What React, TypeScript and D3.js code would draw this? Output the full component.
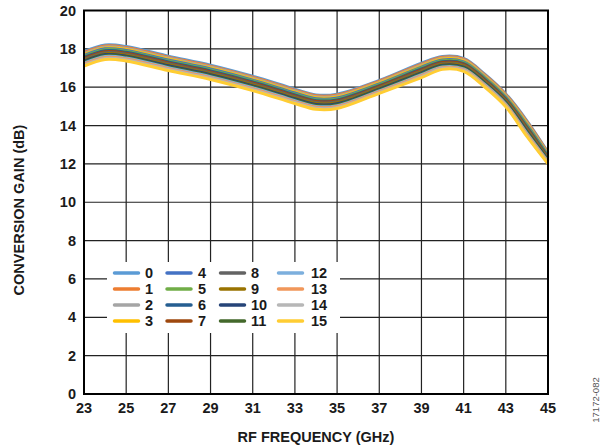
import React from "react";
import * as d3 from "d3";

const freqs = [23, 24, 25, 27, 29, 31, 33, 34, 35, 37, 39, 40, 41, 42, 43, 44, 45];

const s0 = [17.85, 18.2, 18.12, 17.62, 17.15, 16.57, 15.9, 15.6, 15.64, 16.35, 17.25, 17.6, 17.5, 16.68, 15.65, 14.25, 12.6];
const s1 = [17.8, 18.15, 18.07, 17.57, 17.1, 16.52, 15.85, 15.55, 15.59, 16.31, 17.2, 17.56, 17.46, 16.64, 15.61, 14.2, 12.56];
const s2 = [17.75, 18.1, 18.02, 17.52, 17.05, 16.47, 15.8, 15.5, 15.54, 16.26, 17.15, 17.51, 17.41, 16.59, 15.56, 14.14, 12.52];
const s3 = [17.7, 18.05, 17.97, 17.47, 17.0, 16.42, 15.75, 15.45, 15.49, 16.22, 17.1, 17.47, 17.37, 16.55, 15.52, 14.09, 12.48];
const s4 = [17.65, 18.0, 17.92, 17.42, 16.95, 16.37, 15.7, 15.4, 15.44, 16.17, 17.05, 17.42, 17.32, 16.5, 15.47, 14.03, 12.44];
const s5 = [17.6, 17.95, 17.87, 17.37, 16.9, 16.32, 15.65, 15.35, 15.39, 16.13, 17.0, 17.38, 17.28, 16.46, 15.43, 13.98, 12.4];
const s6 = [17.55, 17.9, 17.82, 17.32, 16.85, 16.27, 15.6, 15.3, 15.34, 16.08, 16.95, 17.33, 17.23, 16.41, 15.38, 13.92, 12.36];
const s7 = [17.5, 17.85, 17.77, 17.27, 16.8, 16.22, 15.55, 15.25, 15.29, 16.04, 16.9, 17.29, 17.19, 16.37, 15.34, 13.87, 12.32];
const s8 = [17.45, 17.8, 17.72, 17.22, 16.75, 16.17, 15.5, 15.2, 15.24, 15.99, 16.85, 17.24, 17.14, 16.32, 15.29, 13.81, 12.28];
const s9 = [17.4, 17.75, 17.67, 17.17, 16.7, 16.12, 15.45, 15.15, 15.19, 15.95, 16.8, 17.2, 17.1, 16.28, 15.25, 13.76, 12.24];
const s10 = [17.35, 17.7, 17.62, 17.12, 16.65, 16.07, 15.4, 15.1, 15.14, 15.9, 16.75, 17.15, 17.05, 16.23, 15.2, 13.7, 12.2];
const s11 = [17.3, 17.65, 17.57, 17.07, 16.6, 16.02, 15.35, 15.05, 15.09, 15.86, 16.7, 17.11, 17.01, 16.19, 15.16, 13.65, 12.16];
const s12 = [17.25, 17.6, 17.52, 17.02, 16.55, 15.97, 15.3, 15.0, 15.04, 15.81, 16.65, 17.06, 16.96, 16.14, 15.11, 13.59, 12.12];
const s13 = [17.2, 17.55, 17.47, 16.97, 16.5, 15.92, 15.25, 14.95, 14.99, 15.77, 16.6, 17.02, 16.92, 16.1, 15.07, 13.54, 12.08];
const s14 = [17.15, 17.5, 17.42, 16.92, 16.45, 15.87, 15.2, 14.9, 14.94, 15.72, 16.55, 16.97, 16.87, 16.05, 15.02, 13.48, 12.04];
const s15 = [17.1, 17.45, 17.37, 16.87, 16.4, 15.82, 15.15, 14.85, 14.89, 15.68, 16.5, 16.93, 16.83, 16.01, 14.98, 13.43, 12.0];

const seriesNames = ["0", "1", "2", "3", "4", "5", "6", "7", "8", "9", "10", "11", "12", "13", "14", "15"];
const seriesValues = [s0, s1, s2, s3, s4, s5, s6, s7, s8, s9, s10, s11, s12, s13, s14, s15];
const seriesColors = [
  "#5B9BD5", "#ED7D31", "#A5A5A5", "#FFC000",
  "#4472C4", "#70AD47", "#255E91", "#9E480E",
  "#636363", "#997300", "#264478", "#43682B",
  "#7CAFDD", "#F1975A", "#B7B7B7", "#FFCD33",
];

const xTicks = [23, 25, 27, 29, 31, 33, 35, 37, 39, 41, 43, 45];
const yTicks = [0, 2, 4, 6, 8, 10, 12, 14, 16, 18, 20];

const W = 605;
const H = 448;
const M = { left: 84, right: 548, top: 10.5, bottom: 394 };
const FONT = "'Liberation Sans', Arial, Helvetica, sans-serif";
const FS = 14.5;

export default function App() {
  const x = d3.scaleLinear().domain([23, 45]).range([M.left, M.right]);
  const y = d3.scaleLinear().domain([0, 20]).range([M.bottom, M.top]);

  const line = d3
    .line<number>()
    .x((_, i) => x(freqs[i]))
    .y((d) => y(d))
    .curve(d3.curveCatmullRom.alpha(0.5));

  // legend layout
  const lg = { x0: 107, y0: 262, x1: 340, y1: 333 };
  const colLineX = [114.5, 167, 220.5, 278.5];
  const colTextX = [145, 198, 251, 311];
  const rowY = [273, 289, 305, 321];

  return (
    <div style={{ position: "absolute", left: 0, top: 0 }}>
      <svg width={W} height={H} style={{ display: "block", background: "#fff" }}>
        {/* grid */}
        <g stroke="#222" strokeWidth={1.2}>
          {xTicks.slice(1, -1).map((t) => (
            <line key={"vx" + t} x1={x(t)} x2={x(t)} y1={M.top} y2={M.bottom} />
          ))}
          {yTicks.slice(1, -1).map((t) => (
            <line key={"hy" + t} x1={M.left} x2={M.right} y1={y(t)} y2={y(t)} />
          ))}
        </g>

        {/* legend box */}
        <rect x={lg.x0} y={lg.y0} width={lg.x1 - lg.x0} height={lg.y1 - lg.y0} fill="#fff" />

        {/* curves */}
        <g fill="none" strokeWidth={3} strokeLinejoin="round" strokeLinecap="butt">
          {seriesValues.map((vals, i) => (
            <path key={"s" + i} d={line(vals) || ""} stroke={seriesColors[i]} />
          ))}
        </g>

        {/* frame */}
        <rect
          x={M.left}
          y={M.top}
          width={M.right - M.left}
          height={M.bottom - M.top}
          fill="none"
          stroke="#000"
          strokeWidth={2}
        />

        {/* legend entries */}
        <g fontFamily={FONT} fontWeight="bold" fontSize={FS}>
          {seriesNames.map((name, i) => {
            const col = Math.floor(i / 4);
            const row = i % 4;
            return (
              <g key={"lg" + i}>
                <line
                  x1={colLineX[col]}
                  x2={colLineX[col] + 24}
                  y1={rowY[row]}
                  y2={rowY[row]}
                  stroke={seriesColors[i]}
                  strokeWidth={3.5}
                  strokeLinecap="round"
                />
                <text x={colTextX[col]} y={rowY[row] + 5} fill="#1a1a1a">
                  {name}
                </text>
              </g>
            );
          })}
        </g>

        {/* tick labels */}
        <g fontFamily={FONT} fontWeight="bold" fontSize={FS} fill="#1a1a1a">
          {yTicks.map((t) => (
            <text key={"yl" + t} x={M.left - 8} y={y(t) + 5} textAnchor="end">
              {t}
            </text>
          ))}
          {xTicks.map((t) => (
            <text key={"xl" + t} x={x(t)} y={M.bottom + 19} textAnchor="middle">
              {t}
            </text>
          ))}
        </g>

        {/* axis titles */}
        <text
          x={(M.left + M.right) / 2}
          y={442}
          textAnchor="middle"
          fontFamily={FONT}
          fontWeight="bold"
          fontSize={FS}
          fill="#1a1a1a"
        >
          RF FREQUENCY (GHz)
        </text>
        <text
          transform={`translate(24, 210) rotate(-90)`}
          textAnchor="middle"
          fontFamily={FONT}
          fontWeight="bold"
          fontSize={FS}
          fill="#1a1a1a"
        >
          CONVERSION GAIN (dB)
        </text>
        <text
          transform={`translate(599, 400) rotate(-90)`}
          textAnchor="middle"
          fontFamily={FONT}
          fontSize={9.5}
          fill="#555"
        >
          17172-082
        </text>
      </svg>
    </div>
  );
}
